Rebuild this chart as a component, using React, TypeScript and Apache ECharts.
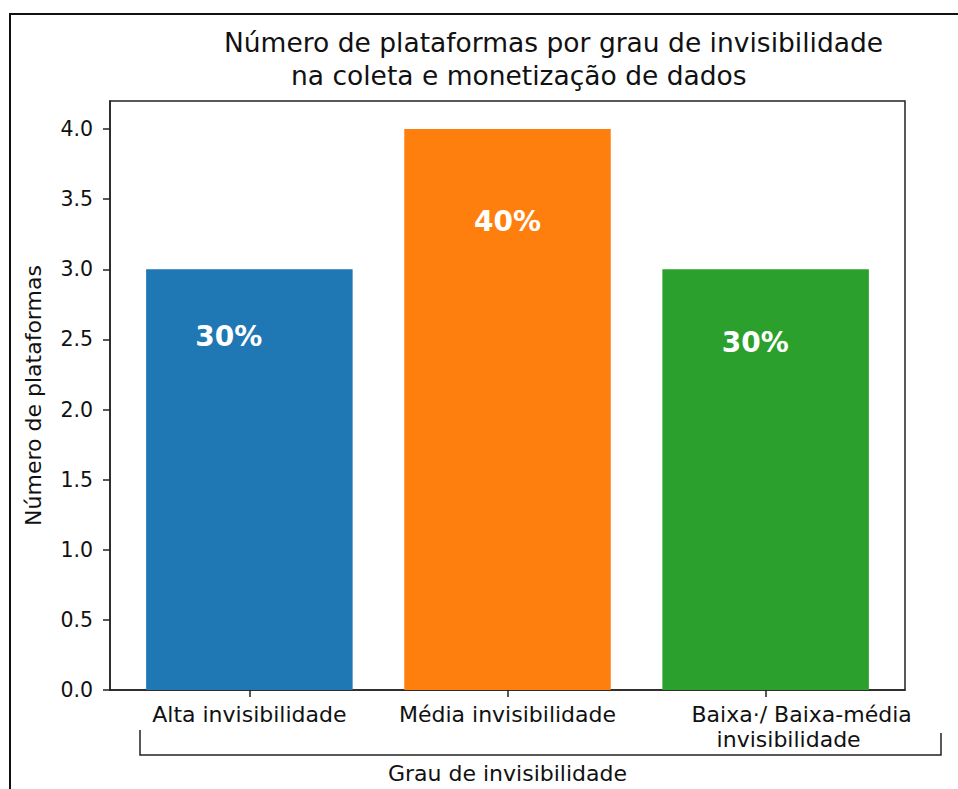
import React, { useEffect, useRef } from "react";
import * as echarts from "echarts";

const titleLines = [
  "Número de plataformas por grau de invisibilidade",
  "na coleta e monetização de dados",
];
const categories = ["Alta invisibilidade", "Média invisibilidade", "Baixa·/ Baixa-média\ninvisibilidade"];
const counts = [3, 4, 3];
const barColors = ["#1f77b4", "#ff7f0e", "#2ca02c"];
const labelX = [-0.08, 1.0, 1.96];
const labelY = [2.52, 3.34, 2.48];
const yTicks = [0, 0.5, 1.0, 1.5, 2.0, 2.5, 3.0, 3.5, 4.0];
const xAxisName = "Grau de invisibilidade";
const yAxisName = "Número de plataformas";

const FONT = "DejaVu Sans";
const W = 958;
const H = 789;
const GRID = { left: 110, right: 53, top: 101, bottom: 96 };
const XMIN = -0.54;
const XMAX = 2.54;
const plotW = W - GRID.left - GRID.right;
const barPx = (plotW / (XMAX - XMIN)) * 0.8;

export default function App() {
  const ref = useRef<HTMLDivElement>(null);
  useEffect(() => {
    if (!ref.current) return;
    const chart = echarts.init(ref.current, undefined, { renderer: "svg" });
    const total = counts.reduce((a, b) => a + b, 0);
    const option: any = {
      animation: false,
      backgroundColor: "#fff",
      title: [
        {
          text: titleLines[0],
          left: 224,
          top: 29,
          padding: 0,
          textStyle: { fontFamily: FONT, fontSize: 26.5, fontWeight: "normal", color: "#111" },
        },
        {
          text: titleLines[1],
          left: 291,
          top: 62,
          padding: 0,
          textStyle: { fontFamily: FONT, fontSize: 26.5, fontWeight: "normal", color: "#111" },
        },
      ],
      grid: {
        ...GRID,
        show: true,
        borderColor: "#222",
        borderWidth: 1.5,
        backgroundColor: "transparent",
      },
      xAxis: {
        type: "value",
        min: XMIN,
        max: XMAX,
        name: xAxisName,
        nameLocation: "middle",
        nameGap: 72,
        nameTextStyle: { fontFamily: FONT, fontSize: 22, color: "#111" },
        splitLine: { show: false },
        axisLine: { show: true, onZero: false, lineStyle: { color: "#222", width: 1.5 } },
        axisTick: {
          show: true,
          customValues: [0, 1, 2],
          length: 7,
          lineStyle: { color: "#222", width: 1.5 },
        },
        axisLabel: {
          customValues: [0, 1, 2],
          margin: 12,
          fontFamily: FONT,
          fontSize: 22,
          color: "#111",
          lineHeight: 25,
          formatter: (v: number) => {
            const i = Math.round(v);
            const c = categories[i] || "";
            if (c.indexOf("\n") >= 0) {
              const parts = c.split("\n");
              return "{g1|" + parts[0] + "}\n{g2|" + parts[1] + "}";
            }
            return c;
          },
          rich: {
            g1: { fontFamily: FONT, fontSize: 22, color: "#111", lineHeight: 25, padding: [0, 0, 0, 72] },
            g2: { fontFamily: FONT, fontSize: 22, color: "#111", lineHeight: 25, padding: [0, 0, 0, 46] },
          },
        },
      },
      yAxis: {
        type: "value",
        min: 0,
        max: 4.2,
        name: yAxisName,
        nameLocation: "middle",
        nameGap: 66,
        nameTextStyle: { fontFamily: FONT, fontSize: 22, color: "#111" },
        splitLine: { show: false },
        axisLine: { show: true, onZero: false, lineStyle: { color: "#222", width: 1.5 } },
        axisTick: {
          show: true,
          customValues: yTicks,
          length: 7,
          lineStyle: { color: "#222", width: 1.5 },
        },
        axisLabel: {
          customValues: yTicks,
          margin: 17,
          fontFamily: FONT,
          fontSize: 20.5,
          color: "#111",
          formatter: (v: number) => v.toFixed(1),
        },
      },
      series: [
        {
          type: "bar",
          barWidth: barPx,
          data: counts.map((v, i) => ({
            value: [i, v],
            itemStyle: { color: barColors[i] },
          })),
        },
        {
          type: "scatter",
          symbolSize: 0,
          silent: true,
          itemStyle: { opacity: 1 },
          data: counts.map((v, i) => ({
            value: [labelX[i], labelY[i]],
            pct: Math.round((v / total) * 100) + "%",
          })),
          label: {
            show: true,
            position: "inside",
            fontFamily: FONT,
            fontSize: 28,
            fontWeight: "bold",
            color: "#ffffff",
            opacity: 1,
            formatter: (p: any) => p.data.pct,
          },
        },
      ],
      graphic: [
        {
          type: "rect",
          shape: { x: 10, y: 14, width: 1000, height: 1000 },
          style: { fill: "none", stroke: "#111", lineWidth: 2 },
          silent: true,
        },
        {
          type: "polyline",
          shape: { points: [[140, 730], [140, 755], [941, 755], [941, 733]] },
          style: { fill: "none", stroke: "#222", lineWidth: 1.5 },
          silent: true,
        },
      ],
    };
    chart.setOption(option);
    return () => chart.dispose();
  }, []);
  return (
    <div
      ref={ref}
      style={{ position: "absolute", left: 0, top: 0, width: W, height: H }}
    />
  );
}
